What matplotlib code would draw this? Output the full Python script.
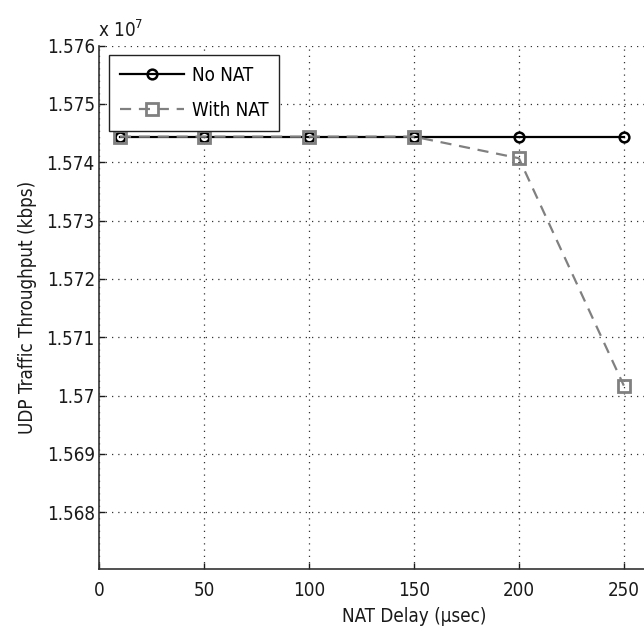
import matplotlib
matplotlib.use("Agg")
import matplotlib.pyplot as plt
from matplotlib.ticker import FuncFormatter

plt.rcParams['font.family'] = ['DejaVu Sans']
plt.rcParams['font.stretch'] = 'condensed'

# NAT delay (usec) and UDP throughput (kbps)
delay = [10, 50, 100, 150, 200, 250]
no_nat = [15744400, 15744400, 15744400, 15744400, 15744400, 15744400]
with_nat = [15744400, 15744400, 15744400, 15744400, 15740700, 15701700]
yticks = [15680000, 15690000, 15700000, 15710000, 15720000, 15730000,
          15740000, 15750000, 15760000]
xticks = [0, 50, 100, 150, 200, 250]

FS = 13.5
TXT = '#1a1a1a'

fig = plt.figure(figsize=(6.44, 6.37), dpi=100)
ax = fig.add_axes([0.1537, 0.1072, 0.978, 0.8211])

ax.plot(delay, no_nat, color='black', lw=1.6, marker='o', ms=7,
        mfc='none', mec='black', mew=1.8, label='No NAT')
ax.plot(delay, with_nat, color='#808080', lw=1.6, ls=(0, (5, 3.5)), marker='s', ms=9,
        mfc='none', mec='#808080', mew=2, label='With NAT')

ax.set_xlim(0, 300)
ax.set_ylim(15670300, 15760000)
ax.set_xticks(xticks)
ax.set_yticks(yticks)

def yfmt(v, pos):
    return f"{v / 1e7:.3f}".rstrip('0').rstrip('.')

ax.yaxis.set_major_formatter(FuncFormatter(yfmt))
ax.tick_params(direction='in', length=4, width=1, labelsize=FS, colors=TXT)
ax.tick_params(axis='y', pad=3)
ax.tick_params(axis='x', pad=9)
for side in ['top', 'right']:
    ax.spines[side].set_visible(False)
for side in ['left', 'bottom']:
    ax.spines[side].set_color('#333333')
    ax.spines[side].set_linewidth(1.2)

ax.grid(True, ls=(0, (1, 4)), color='#333333', lw=0.9)

ax.text(-0.002, 1.008, r'x 10$^{7}$', transform=ax.transAxes, fontsize=FS,
        ha='left', va='bottom', color=TXT)

ax.set_xlabel('NAT Delay (\u00b5sec)', fontsize=FS, color=TXT, labelpad=5)
ax.set_ylabel('UDP Traffic Throughput (kbps)', fontsize=FS, color=TXT, labelpad=7)

leg = ax.legend(loc='upper left', bbox_to_anchor=(0.016, 0.983), fontsize=FS,
                fancybox=False, framealpha=1, edgecolor='#222222',
                handlelength=3.4, handletextpad=0.4, borderpad=0.6,
                labelspacing=0.85, borderaxespad=0)
leg.get_frame().set_linewidth(1.0)

fig.savefig('out.png', dpi=100)
